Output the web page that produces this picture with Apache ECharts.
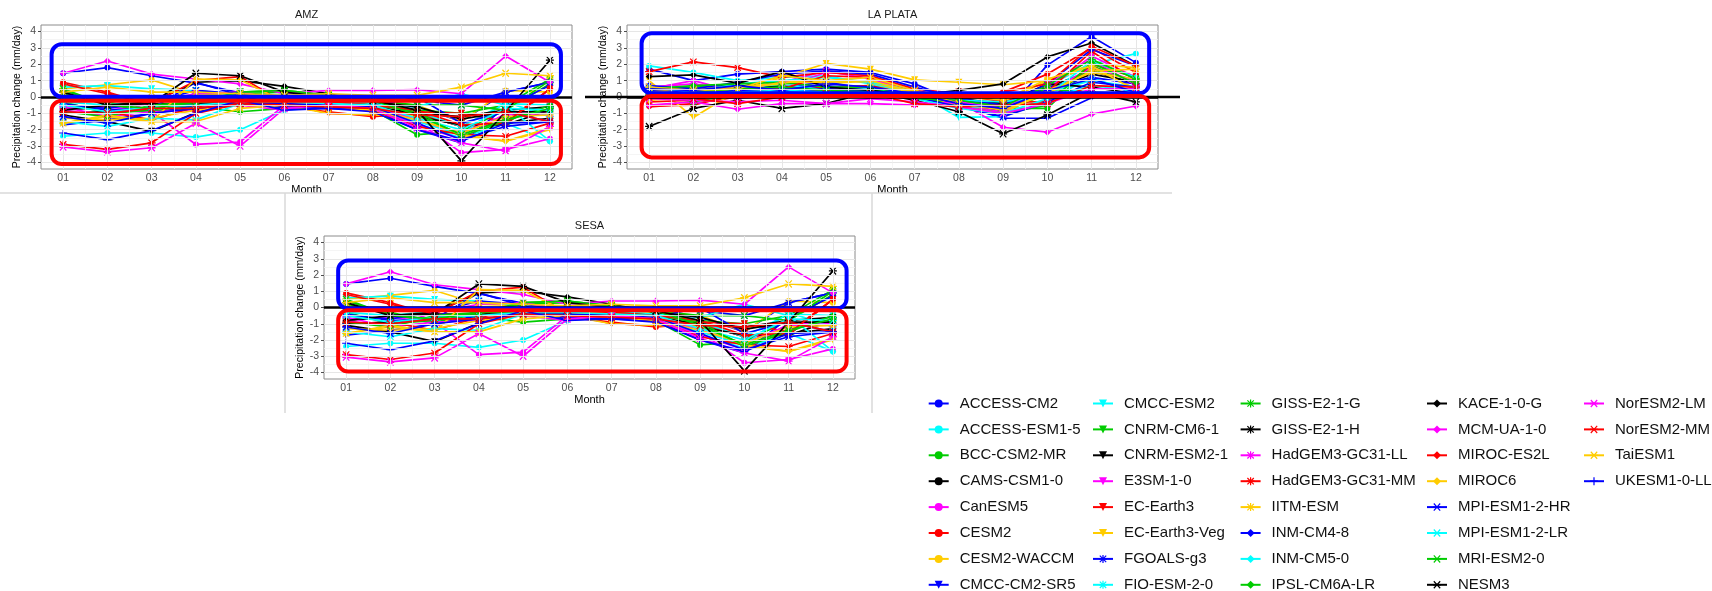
<!DOCTYPE html>
<html>
<head>
<meta charset="utf-8">
<script src="https://cdn.jsdelivr.net/npm/echarts@6/dist/echarts.min.js"></script>
<style>
html,body{margin:0;padding:0;background:#fff;}
#chart{width:1712px;height:591px;}
</style>
</head>
<body>
<div id="chart"></div>
<script>
// ---------------- DATA ----------------
const monthLabels = ['01','02','03','04','05','06','07','08','09','10','11','12'];
const yTickValues = [-4,-3,-2,-1,0,1,2,3,4];
const panelTitles = ['AMZ','LA PLATA','SESA'];

const modelNames = [
 'ACCESS-CM2','ACCESS-ESM1-5','BCC-CSM2-MR','CAMS-CSM1-0','CanESM5','CESM2','CESM2-WACCM',
 'CMCC-CM2-SR5','CMCC-ESM2','CNRM-CM6-1','CNRM-ESM2-1','E3SM-1-0','EC-Earth3','EC-Earth3-Veg',
 'FGOALS-g3','FIO-ESM-2-0','GISS-E2-1-G','GISS-E2-1-H','HadGEM3-GC31-LL','HadGEM3-GC31-MM','IITM-ESM',
 'INM-CM4-8','INM-CM5-0','IPSL-CM6A-LR','KACE-1-0-G','MCM-UA-1-0','MIROC-ES2L','MIROC6',
 'MPI-ESM1-2-HR','MPI-ESM1-2-LR','MRI-ESM2-0','NESM3','NorESM2-LM','NorESM2-MM','TaiESM1',
 'UKESM1-0-LL'
];

// AMZ precipitation change (mm/day), one row per model, months 01..12
const amzValues = [
 [1.45,1.8,1.3,0.85,0.25,-0.2,-0.3,-0.4,-0.6,-1.5,0.3,0.9],
 [-2.4,-2.2,-2.2,-2.45,-2.0,-0.8,-0.6,-0.7,-1.7,-2.5,-1.6,-2.7],
 [0.4,-0.4,-1.0,-0.6,-0.9,-0.7,-0.6,-0.8,-2.3,-2.1,-0.8,0.8],
 [-0.8,-0.6,-0.4,-0.4,-0.3,-0.3,-0.5,-0.7,-1.0,-1.8,-1.6,-1.3],
 [-0.8,-1.2,-0.9,-2.9,-2.75,-0.5,-0.4,-0.5,-1.5,-3.4,-3.2,-2.55],
 [0.9,0.3,-0.5,-0.8,-0.4,-0.6,-0.9,-1.2,-1.0,-1.8,-1.7,0.5],
 [0.5,0.75,1.05,0.2,0.1,-0.1,-0.2,-0.3,-0.5,-1.5,0.4,0.3],
 [-1.7,-1.4,-1.0,-0.5,-0.3,-0.7,-0.7,-0.8,-2.0,-2.8,-0.6,0.7],
 [0.6,0.7,0.5,0.4,0.1,-0.2,-0.3,-0.4,-0.9,-1.8,-0.4,-0.5],
 [0.2,-0.3,-0.9,-0.4,0.3,0.4,0.1,-0.3,-0.8,-1.0,-0.5,1.1],
 [-1.1,-1.5,-2.1,-0.95,-0.3,-0.1,-0.3,-0.5,-1.2,-1.7,-1.7,-0.8],
 [-0.7,-0.6,-0.9,-0.8,-0.5,-0.8,-0.5,-0.7,-1.7,-2.6,-1.0,-1.0],
 [-1.0,-0.9,-1.4,-0.6,-0.2,-0.4,-1.0,-1.1,-0.9,-1.0,-1.5,0.5],
 [-1.3,-1.4,-1.3,-0.8,-0.5,-0.5,-1.0,-1.1,-1.2,-2.4,-2.7,-2.0],
 [-0.5,-0.7,-0.3,0.4,0.2,-0.1,-0.1,-0.1,-0.2,-0.5,0.3,0.9],
 [-1.5,-1.8,-1.3,-1.4,-0.4,-0.4,-0.5,-0.7,-1.5,-2.3,-0.3,-1.2],
 [-0.3,-1.0,-0.8,-0.3,0.2,0.3,0.0,-0.2,-0.5,-0.5,-0.8,1.0],
 [-1.0,-0.9,-0.6,-0.5,-0.2,-0.4,-0.4,-0.6,-1.0,-1.2,-0.8,-0.6],
 [-0.6,-1.2,-0.3,0.2,0.3,-0.2,-0.3,-0.5,-1.4,-2.2,-1.1,-1.0],
 [-2.9,-3.2,-2.8,-1.0,-0.4,-0.5,-0.6,-0.8,-1.8,-2.3,-2.4,-1.6],
 [-1.6,-1.2,-1.5,-1.5,-0.7,-0.5,-0.6,-0.8,-1.4,-2.2,-1.2,-1.1],
 [-0.4,-0.8,-0.7,0.9,0.1,-0.6,-0.7,-0.6,0.0,-1.6,-0.9,-1.5],
 [-0.3,-0.5,-0.2,-0.1,-0.2,-0.3,-0.3,-0.4,-0.6,0.2,-0.5,-2.7],
 [-0.9,-1.2,-0.5,-0.3,-0.3,-0.4,-0.3,-0.5,-0.9,-2.4,-1.5,-0.5],
 [-0.8,-0.5,-0.3,0.9,1.0,0.65,0.2,-0.3,-0.6,-1.35,-0.9,-0.9],
 [1.45,2.2,1.4,1.1,0.8,0.2,0.4,0.4,0.45,0.2,2.5,0.9],
 [0.8,0.2,-0.4,1.0,1.25,-0.4,-0.3,-0.5,-0.8,-1.7,-1.6,0.5],
 [-1.6,-1.1,-1.5,1.1,1.05,-0.3,-0.4,-0.6,-1.2,-2.3,-2.7,-1.9],
 [-1.2,-1.6,-1.0,-0.7,-0.4,-0.4,-0.5,-0.6,-1.6,-2.6,-1.8,-1.5],
 [-0.5,-0.9,-0.6,-0.5,-0.3,-0.3,-0.4,-0.5,-1.3,-2.0,-0.7,-0.8],
 [0.5,-0.5,-0.7,-0.3,0.3,0.4,0.1,-0.2,-1.1,-2.3,-1.4,-0.7],
 [0.3,-0.5,-0.4,1.45,1.3,0.3,0.0,-0.2,-0.8,-3.9,-0.9,2.25],
 [-3.05,-3.35,-3.1,-1.6,-3.0,-0.7,-0.5,-0.7,-1.9,-2.8,-3.3,-1.8],
 [-0.9,-1.0,-0.7,-0.7,-0.4,-0.5,-0.6,-0.7,-1.1,-1.2,-0.9,-1.5],
 [0.3,0.6,0.3,0.3,0.2,0.1,0.2,0.1,0.1,0.6,1.45,1.3],
 [-2.2,-2.6,-2.05,-1.0,-0.2,-0.8,-0.7,-0.9,-2.0,-2.7,-1.6,-1.5]
];

// LA PLATA precipitation change (mm/day)
const laPlataValues = [
 [1.7,1.0,1.4,1.55,1.7,1.5,0.8,-0.3,-1.1,1.95,3.7,2.1],
 [1.9,1.5,1.0,1.2,1.3,0.8,0.3,-0.2,-0.4,0.7,2.0,2.65],
 [0.3,0.4,0.6,0.7,0.4,0.5,0.1,-0.4,-0.7,-0.7,1.9,0.9],
 [0.2,0.3,0.9,0.5,0.3,0.4,0.0,-0.3,-0.3,0.6,1.6,0.8],
 [0.5,1.0,0.3,0.6,1.5,1.3,0.3,0.1,-0.3,0.5,2.5,1.2],
 [-0.55,-0.5,0.2,0.3,0.5,0.4,0.2,-0.2,0.3,1.4,3.0,1.5],
 [-0.2,0.2,0.4,1.0,0.8,1.0,0.3,0.1,-0.3,1.0,1.8,0.5],
 [0.6,0.4,0.5,0.6,0.9,0.5,0.2,-0.5,-1.3,-1.3,-0.05,0.5],
 [0.5,0.4,0.6,0.4,0.6,0.7,0.3,-1.25,-1.2,-0.2,1.2,0.2],
 [0.4,0.6,0.7,0.6,0.5,0.3,0.0,-0.5,-0.9,0.2,1.7,1.0],
 [0.3,0.4,0.7,0.6,0.5,0.3,-0.1,-0.3,-0.9,0.4,1.4,0.9],
 [0.4,0.3,-0.1,0.2,0.4,0.5,0.1,-0.5,-0.9,0.3,1.8,1.0],
 [-0.6,-0.4,0.0,0.5,0.6,0.7,0.1,0.3,-0.3,-0.3,2.0,1.2],
 [1.0,-1.25,0.4,1.2,2.05,1.7,1.05,0.9,0.75,1.0,2.0,1.8],
 [0.4,0.3,0.6,0.5,0.7,0.4,0.1,-0.3,-0.8,0.6,1.2,0.8],
 [0.3,-0.2,0.5,0.8,0.4,0.5,0.1,-0.6,-0.6,0.3,1.0,0.6],
 [0.2,-0.3,0.2,0.3,0.2,0.4,0.2,-0.3,-0.5,0.5,0.3,0.2],
 [0.1,-0.1,0.3,0.2,0.3,0.2,0.0,-0.1,-0.4,0.8,0.6,0.2],
 [0.6,0.8,0.4,0.9,1.6,1.1,0.3,-0.3,-0.7,0.8,2.3,0.7],
 [1.55,2.15,1.8,1.2,1.5,1.3,0.5,0.2,-0.3,0.3,2.8,1.0],
 [0.3,0.5,0.6,0.8,1.0,0.9,0.2,-0.6,-1.0,0.4,1.5,1.1],
 [0.7,0.5,0.9,1.4,1.6,1.4,0.6,-0.1,-0.5,0.8,2.9,1.9],
 [0.6,0.3,0.8,1.0,1.2,0.9,0.4,-0.2,-0.3,0.1,2.2,1.2],
 [0.5,0.7,0.8,0.9,0.6,0.6,0.1,-0.6,-1.0,-0.5,2.1,0.8],
 [1.25,1.35,0.85,1.55,0.6,0.4,0.1,0.4,0.8,2.45,3.3,1.9],
 [-0.5,-0.3,-0.75,-0.4,-0.4,-0.4,-0.5,-0.3,-1.85,-2.15,-1.05,-0.55],
 [-0.3,-0.2,0.3,0.5,1.3,1.2,0.4,-0.1,0.3,0.8,3.1,1.9],
 [-0.2,0.0,0.4,0.9,0.9,1.0,0.3,0.1,-0.2,1.1,1.9,0.4],
 [0.3,0.2,0.4,0.3,0.5,0.3,0.0,-0.6,-1.2,-0.3,0.9,0.6],
 [0.2,0.1,0.3,0.4,0.3,0.2,-0.1,-0.7,-1.0,-0.1,0.7,0.4],
 [0.1,0.3,0.5,0.6,0.4,0.3,-0.1,-0.2,-0.6,0.7,2.3,1.1],
 [-1.8,-0.7,-0.2,-0.7,-0.4,0.3,-0.2,-0.9,-2.25,-1.1,0.3,-0.3],
 [-0.1,-0.2,-0.3,-0.2,-0.4,-0.1,-0.3,-0.6,-1.0,-0.4,0.5,0.5],
 [0.0,-0.1,-0.4,0.0,0.2,0.2,-0.4,-0.6,-0.5,-0.4,0.7,0.6],
 [0.6,0.4,0.5,1.3,1.0,1.2,0.4,-0.4,-0.8,0.2,1.6,1.7],
 [0.5,0.4,0.7,0.4,0.8,0.6,0.2,-0.4,-0.7,0.4,1.1,0.3]
];

// SESA panel in the reference shows the same curves as AMZ
const sesaValues = amzValues;

// annotation boxes in data units: [xMin, xMax, yMin, yMax]
const blueBoxes = [[0.74,12.25,0.02,3.22],[0.83,12.30,0.23,3.89],[0.82,12.31,-0.06,2.89]];
const redBoxes  = [[0.74,12.25,-4.10,-0.23],[0.83,12.30,-3.69,0.06],[0.82,12.31,-3.94,-0.17]];

// ---------------- STYLE ----------------
const FONT = '"Liberation Sans", Arial, Helvetica, sans-serif';
const palette = ['#0000FF','#00FFFF','#00CC00','#000000','#FF00FF','#FF0000','#FFCC00'];
const PLUS = 'M8.5 0H11.5V20H8.5ZM0 8.5H20V11.5H0Z';
const HBAR = 'M0 8.5H20V11.5H0Z';
const DIAG = 'M3.06 0.94L19.06 16.94L16.94 19.06L0.94 3.06ZM19.06 3.06L3.06 19.06L0.94 16.94L16.94 0.94Z';
const markerDefs = [
  {symbol:'circle', size:6, rotate:0},
  {symbol:'triangle', size:7, rotate:180},
  {symbol:'path://' + PLUS + DIAG, size:8, rotate:0},
  {symbol:'diamond', size:7, rotate:0},
  {symbol:'path://' + HBAR + DIAG, size:8, rotate:0},
  {symbol:'path://' + PLUS, size:8, rotate:0}
];

const grids = [
  {left:41, top:25, width:531, height:144},
  {left:627, top:25, width:531, height:144},
  {left:324, top:236, width:531, height:143}
];
const panelValues = [amzValues, laPlataValues, sesaValues];

const xAxes = [], yAxes = [], series = [];
const monthPos = monthLabels.map((m, j) => j + 1);

grids.forEach((g, gi) => {
  xAxes.push({
    type:'value', gridIndex:gi, min:0.5, max:12.5,
    axisLine:{show:false}, splitLine:{show:false},
    axisTick:{show:true, customValues:monthPos, length:3, lineStyle:{color:'#4d4d4d'}},
    axisLabel:{customValues:monthPos, formatter:(v)=>monthLabels[Math.round(v)-1] || '', color:'#4d4d4d', fontSize:10.5, fontFamily:FONT, margin:4},
    name:'Month', nameLocation:'middle', nameGap:12,
    nameTextStyle:{color:'#000', fontSize:11, fontFamily:FONT}
  });
  yAxes.push({
    type:'value', gridIndex:gi, min:-4.4, max:4.4,
    axisLine:{show:false}, splitLine:{show:false},
    axisTick:{show:true, customValues:yTickValues, length:3, lineStyle:{color:'#4d4d4d'}},
    axisLabel:{customValues:yTickValues, formatter:(v)=>String(v), color:'#4d4d4d', fontSize:10.5, fontFamily:FONT, margin:5},
    name:'Precipitation change (mm/day)', nameLocation:'middle', nameGap:18,
    nameTextStyle:{color:'#000', fontSize:10.5, fontFamily:FONT}
  });
  // grid lines (major on integers, minor on halves)
  const gl = [];
  for (let k = 1; k <= 12; k++) gl.push({xAxis:k, lineStyle:{color:'#e6e6e6', width:1, type:'solid'}});
  for (let k = 1; k < 12; k++) gl.push({xAxis:k + 0.5, lineStyle:{color:'#f3f3f3', width:0.8, type:'solid'}});
  yTickValues.forEach(v => gl.push({yAxis:v, lineStyle:{color:'#e6e6e6', width:1, type:'solid'}}));
  for (let v = -3.5; v <= 3.5; v += 1) gl.push({yAxis:v, lineStyle:{color:'#f3f3f3', width:0.8, type:'solid'}});
  series.push({
    type:'line', xAxisIndex:gi, yAxisIndex:gi, data:[], z:0, silent:true,
    markLine:{silent:true, symbol:['none','none'], label:{show:false}, animation:false, data:gl}
  });
  // model lines
  panelValues[gi].forEach((vals, i) => {
    const md = markerDefs[Math.floor(i / 7)];
    const c = palette[i % 7];
    series.push({
      type:'line', name:modelNames[i], xAxisIndex:gi, yAxisIndex:gi,
      data:vals.map((v, j) => [j + 1, v]),
      symbol:md.symbol, symbolSize:md.size, symbolRotate:md.rotate, showSymbol:true,
      lineStyle:{color:c, width:1.7}, itemStyle:{color:c, borderColor:c, borderWidth:0},
      z:2, animation:false, silent:true
    });
  });
  // zero line
  series.push({
    type:'line', xAxisIndex:gi, yAxisIndex:gi, data:[], z:5, silent:true,
    markLine:{silent:true, symbol:['none','none'], label:{show:false}, animation:false,
      data:[{yAxis:0, lineStyle:{color:'#000', width:2.5, type:'solid'}}]}
  });
});

// legend: 5 columns of 8 rows
const legendCols = [927.7, 1092, 1239.6, 1426, 1583];
const legends = legendCols.map((x, k) => ({
  orient:'vertical', left:x, top:396, height:200, padding:0,
  itemWidth:20, itemHeight:10, itemGap:10.9,
  selectedMode:false, data:modelNames.slice(k * 8, k * 8 + 8),
  textStyle:{fontSize:15, color:'#111', fontFamily:FONT, padding:[0,0,0,6]}
}));

const chart = echarts.init(document.getElementById('chart'), null, {renderer:'canvas'});
chart.setOption({
  backgroundColor:'#fff',
  animation:false,
  grid:grids.map(g => Object.assign({show:true, borderColor:'#8c8c8c', borderWidth:1, backgroundColor:'#fff', containLabel:false}, g)),
  xAxis:xAxes, yAxis:yAxes, legend:legends, series:series
});

// graphic: titles, frame lines, annotation boxes
const gfx = [];
const lineC = '#d9d9d9';
gfx.push({type:'line', shape:{x1:0, y1:193, x2:1172, y2:193}, style:{stroke:lineC, lineWidth:1.5}, silent:true, z:1});
gfx.push({type:'line', shape:{x1:285, y1:193, x2:285, y2:413}, style:{stroke:lineC, lineWidth:1.5}, silent:true, z:1});
gfx.push({type:'line', shape:{x1:872, y1:193, x2:872, y2:413}, style:{stroke:lineC, lineWidth:1.5}, silent:true, z:1});
grids.forEach((g, gi) => {
  gfx.push({type:'text', x:g.left + g.width / 2, y:g.top - 10,
    style:{text:panelTitles[gi], fill:'#1a1a1a', font:'11px ' + FONT, textAlign:'center', textVerticalAlign:'middle'}, silent:true, z:10});
  [[blueBoxes[gi], '#0000FF'], [redBoxes[gi], '#FF0000']].forEach(([b, col]) => {
    const p1 = chart.convertToPixel({gridIndex:gi}, [b[0], b[3]]);
    const p2 = chart.convertToPixel({gridIndex:gi}, [b[1], b[2]]);
    gfx.push({type:'rect', shape:{x:p1[0], y:p1[1], width:p2[0]-p1[0], height:p2[1]-p1[1], r:10},
      style:{fill:'none', stroke:col, lineWidth:4}, silent:true, z:20});
  });
});
// LA PLATA zero line extends beyond its panel in the reference
const z0 = chart.convertToPixel({gridIndex:1}, [1, 0]);
gfx.push({type:'line', shape:{x1:585, y1:z0[1], x2:1180, y2:z0[1]}, style:{stroke:'#000', lineWidth:2.5}, silent:true, z:15});
chart.setOption({graphic:gfx});
</script>
</body>
</html>
